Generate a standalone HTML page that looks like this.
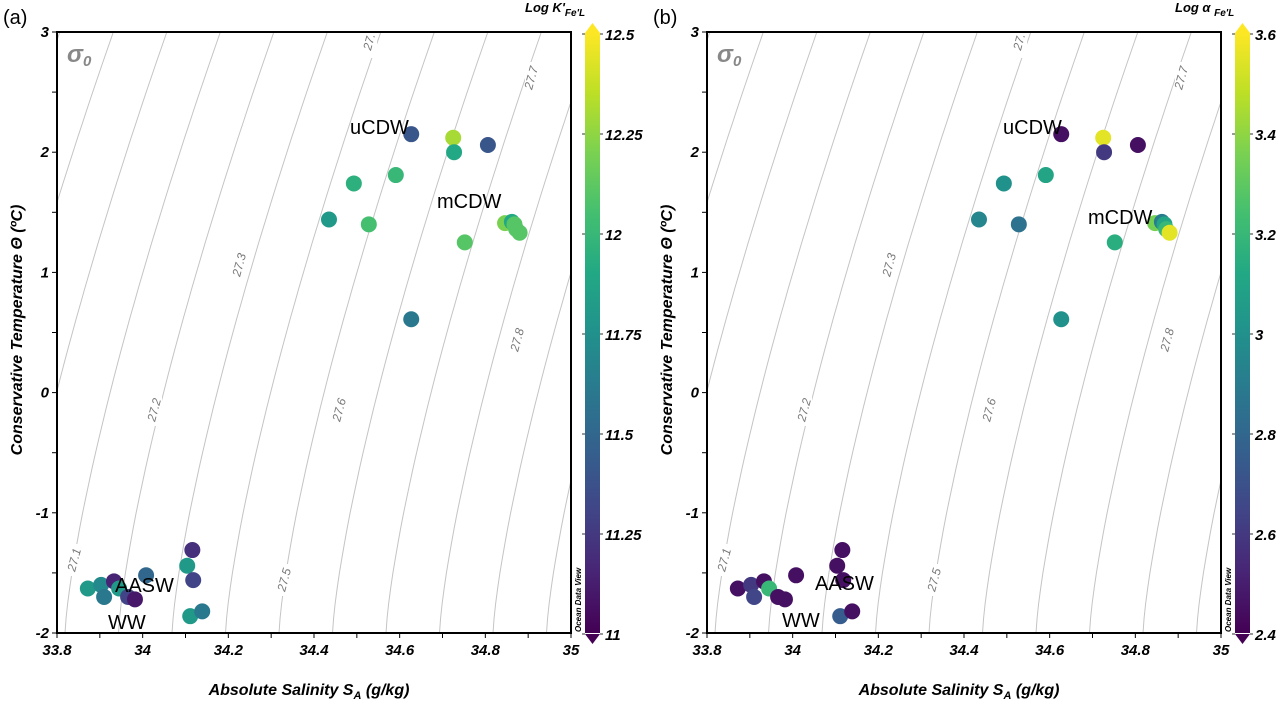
<!DOCTYPE html>
<html><head><meta charset="utf-8"><style>
body{margin:0;background:#fff;}
svg{display:block;font-family:"Liberation Sans",sans-serif;}
</style></head><body>
<svg id="chart" width="1277" height="702" viewBox="0 0 1277 702" xmlns="http://www.w3.org/2000/svg">
<defs>
<linearGradient id="vir" x1="0" y1="1" x2="0" y2="0">
<stop offset="0" stop-color="#440154"/><stop offset="0.1" stop-color="#482475"/><stop offset="0.2" stop-color="#414487"/><stop offset="0.3" stop-color="#355f8d"/><stop offset="0.4" stop-color="#2a788e"/><stop offset="0.5" stop-color="#21918c"/><stop offset="0.6" stop-color="#22a884"/><stop offset="0.7" stop-color="#44bf70"/><stop offset="0.8" stop-color="#7ad151"/><stop offset="0.9" stop-color="#bddf26"/><stop offset="1" stop-color="#fde725"/>
</linearGradient>
<clipPath id="clipA"><rect x="57" y="32" width="514" height="601"/></clipPath>
<clipPath id="clipB"><rect x="707" y="32" width="514" height="601"/></clipPath>
</defs>
</svg>
<script>
const salinity=[34.627,34.725,34.727,34.806,34.493,34.591,34.435,34.528,34.627,34.752,34.846,34.862,34.868,34.872,34.880,34.116,34.104,34.118,34.111,34.139,33.872,33.903,33.910,33.933,33.945,34.008,33.966,33.982];
const temperature=[2.15,2.12,2.00,2.06,1.74,1.81,1.44,1.40,0.61,1.25,1.41,1.42,1.40,1.36,1.33,-1.31,-1.44,-1.56,-1.86,-1.82,-1.63,-1.60,-1.70,-1.57,-1.63,-1.52,-1.70,-1.72];
const logK=[11.4,12.3,11.9,11.4,11.95,12.0,11.8,12.05,11.6,12.1,12.2,11.9,12.1,12.1,12.1,11.2,11.8,11.3,11.8,11.6,11.8,11.7,11.6,11.15,11.8,11.5,11.3,11.1];
const logAlpha=[2.45,3.55,2.6,2.45,3.0,3.1,2.95,2.85,3.0,3.15,3.35,2.9,3.1,3.2,3.55,2.45,2.45,2.45,2.75,2.45,2.45,2.6,2.65,2.45,3.2,2.45,2.45,2.45];
const xTicks=[33.8,34,34.2,34.4,34.6,34.8,35];
const yTicks=[3,2,1,0,-1,-2];
const kTicks=[11,11.25,11.5,11.75,12,12.25,12.5];
const aTicks=[2.4,2.6,2.8,3,3.2,3.4,3.6];
const isoLabels=[["27.1",75,560],["27.2",155,410],["27.3",240,265],["27.5",285,580],["27.6",340,410],["27.8",518,340],["27.7",532,78],["27.",370,42]];
const massNames=["uCDW","mCDW","AASW","WW"];
const massPosA=[[350,134],[437,208],[115,592],[108,629]];
const massPosB=[[1003,134],[1088,224],[815,590],[782,627]];

const NS="http://www.w3.org/2000/svg";
const svg=document.getElementById('chart');
function mk(tag,attrs,parent){const e=document.createElementNS(NS,tag);for(const k in attrs)e.setAttribute(k,attrs[k]);(parent||svg).appendChild(e);return e;}
const stops=["#440154","#482475","#414487","#355f8d","#2a788e","#21918c","#22a884","#44bf70","#7ad151","#bddf26","#fde725"];
function hex(h){return [1,3,5].map(i=>parseInt(h.substr(i,2),16));}
function vir(t){t=Math.max(0,Math.min(1,t));const p=t*10,i=Math.min(9,Math.floor(p)),f=p-i;const a=hex(stops[i]),b=hex(stops[i+1]);return "rgb("+a.map((v,j)=>Math.round(v+(b[j]-v)*f)).join(",")+")";}

function panel(off,vals,vmin,vmax,ticks,title,letter,clip,labels,massPos){
  const L=57+off,R=571+off,T=32,B=633;
  const xs=s=>L+(s-33.8)/1.2*(R-L);
  const ys=t=>T+(3-t)/5*(B-T);
  const g=mk('g',{'clip-path':'url(#'+clip+')'});
  
  
  for(let k=-3;k<=10;k++){
    const xb=65+off+53.5*k;let pts=[];
    for(let i=0;i<=40;i++){const t=i/40;pts.push((xb+155*Math.pow(t,1.35)).toFixed(1)+","+(633-600*t).toFixed(1));}
    const pl=mk('polyline',{points:pts.join(" "),fill:"none",stroke:"#c4c4c4","stroke-width":1},g);
    
    
  }
  labels.forEach(l=>{
    mk('rect',{x:l[1]+off-7,y:l[2]-16,width:14,height:32,fill:"#fff"},g);
    const tx=mk('text',{x:l[1]+off,y:l[2],transform:"rotate(-75 "+(l[1]+off)+" "+l[2]+")","font-size":12,"font-style":"italic",fill:"#777","text-anchor":"middle","dominant-baseline":"middle"},g);
    tx.textContent=l[0];
    
    
  });
  const sg=mk('text',{x:L+10,y:62,"font-size":24,"font-weight":"bold","font-style":"italic",fill:"#888"});
  sg.innerHTML='σ<tspan font-size="15" dy="4">0</tspan>';
  
  
  const pg=mk('g',{});
  
  
  for(let i=0;i<salinity.length;i++){
    const c=mk('circle',{cx:xs(salinity[i]),cy:ys(temperature[i]),r:8,fill:vir((vals[i]-vmin)/(vmax-vmin))},pg);
    
    
  }
  massNames.forEach((n,i)=>{
    const t=mk('text',{x:massPos[i][0],y:massPos[i][1],"font-size":20,fill:"#000"});
    t.textContent=n;
    
    
  });
  const fr=mk('rect',{x:L,y:T,width:R-L,height:B-T,fill:"none",stroke:"#000","stroke-width":2});
  
  
  for(let s=33.8;s<=35.001;s+=0.1){mk('line',{x1:xs(s),x2:xs(s),y1:B,y2:B+5,stroke:"#000"});}
  xTicks.forEach(s=>{const t=mk('text',{x:xs(s),y:B+22,"font-size":15,"font-weight":"bold","font-style":"italic","text-anchor":"middle"});t.textContent=String(s);});
  for(let v=-2;v<=3;v+=0.5){mk('line',{x1:L-5,x2:L,y1:ys(v),y2:ys(v),stroke:"#000"});}
  yTicks.forEach(v=>{const t=mk('text',{x:L-8,y:ys(v)+5,"font-size":15,"font-weight":"bold","font-style":"italic","text-anchor":"end"});t.textContent=String(v);});
  const xt=mk('text',{x:(L+R)/2-5,y:695,"font-size":16,"font-weight":"bold","font-style":"italic","text-anchor":"middle"});
  xt.innerHTML='Absolute Salinity S<tspan font-size="11" dy="4">A</tspan><tspan dy="-4"> (g/kg)</tspan>';
  
  
  const yt=mk('text',{x:22+off,y:330,transform:"rotate(-90 "+(22+off)+" 330)","font-size":16,"font-weight":"bold","font-style":"italic","text-anchor":"middle"});
  yt.textContent='Conservative Temperature Θ (ºC)';
  
  
  const cx=585+off,cw=15;
  const cb=mk('rect',{x:cx,y:T+1,width:cw,height:600,fill:"url(#vir)"});
  
  
  mk('polygon',{points:(cx)+","+(T+1)+" "+(cx+cw)+","+(T+1)+" "+(cx+cw/2)+","+(T-9),fill:"#fde725"});
  mk('polygon',{points:(cx)+","+(B+1)+" "+(cx+cw)+","+(B+1)+" "+(cx+cw/2)+","+(B+11),fill:"#440154"});
  ticks.forEach(v=>{const y=B-(v-vmin)/(vmax-vmin)*600+1;mk('line',{x1:cx-3,x2:cx,y1:y,y2:y,stroke:"#333"});mk('line',{x1:cx+cw,x2:cx+cw+3,y1:y,y2:y,stroke:"#333"});const t=mk('text',{x:cx+cw+5,y:y+6,"font-size":15,"font-weight":"bold","font-style":"italic"});t.textContent=String(v);});
  const od=mk('text',{x:cx-4,y:632,transform:"rotate(-90 "+(cx-4)+" 632)","font-size":8,"font-weight":"bold","font-style":"italic"});
  od.textContent='Ocean Data View';
  
  
  const ct=mk('text',{x:cx-60,y:12,"font-size":13,"font-weight":"bold","font-style":"italic"});
  ct.innerHTML=title;
  
  
  const pl=mk('text',{x:3+off,y:24,"font-size":20});
  pl.textContent=letter;
  
  
}
panel(0,logK,11,12.5,kTicks,"Log K'<tspan font-size=\"10\" dy=\"4\">Fe'L</tspan>","(a)","clipA",isoLabels,massPosA);
panel(650,logAlpha,2.4,3.6,aTicks,"Log α <tspan font-size=\"10\" dy=\"4\">Fe'L</tspan>","(b)","clipB",isoLabels,massPosB);
</script>
</body></html>
